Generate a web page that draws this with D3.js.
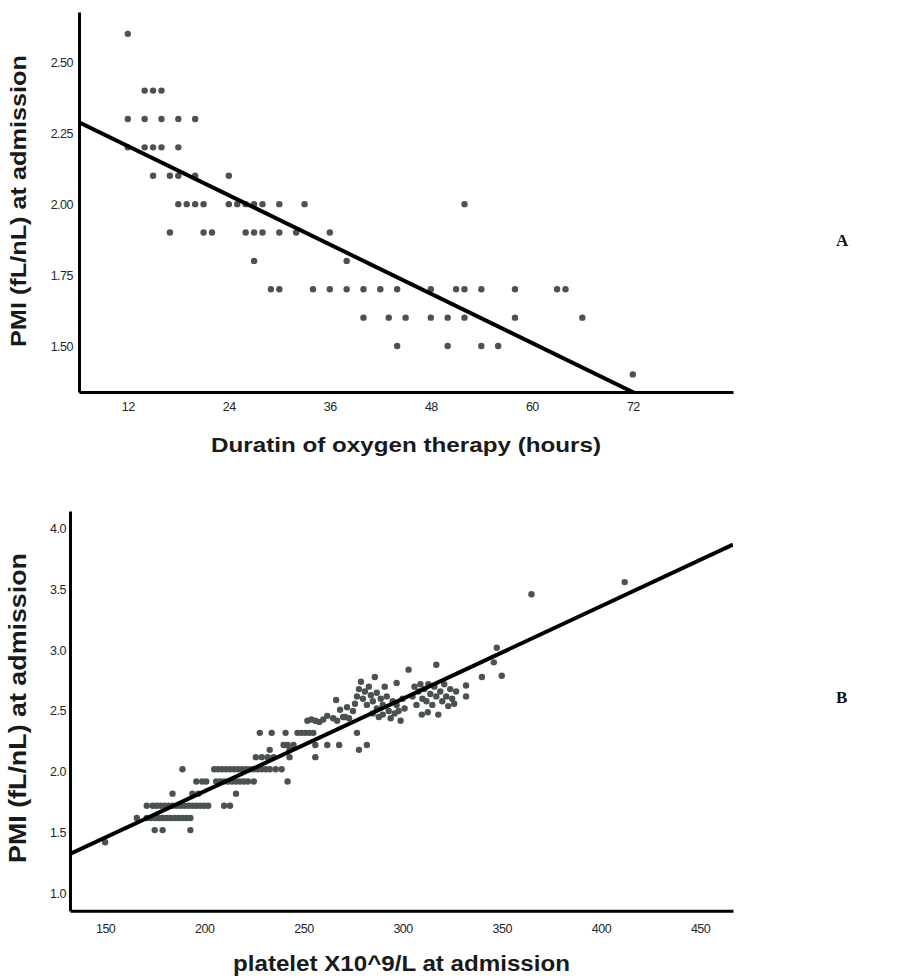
<!DOCTYPE html>
<html>
<head>
<meta charset="utf-8">
<script src="https://cdn.jsdelivr.net/npm/d3@7"></script>
<style>
  body { margin: 0; background: #fff; }
  .tick text { font-family: "Liberation Sans", Arial, sans-serif; font-size: 12.5px; fill: #262626; letter-spacing: -0.5px; }
  .axis-title { font-family: "Liberation Sans", Arial, sans-serif; font-weight: bold; fill: #1a1a1a; }
  .panel-label { font-family: "Liberation Serif", "DejaVu Serif", serif; font-weight: bold; font-size: 17px; fill: #111; }
</style>
</head>
<body>
<div id="chart"></div>
<script>
// ---- panel A: duration of oxygen therapy vs PMI ----
const hoursA = [
  12,
  14, 15, 16,
  12, 14, 16, 18, 20,
  12, 14, 15, 16, 18,
  15, 17, 18, 20, 24,
  18, 19, 20, 21, 24, 25, 26, 27, 28, 30, 33, 52,
  17, 21, 22, 26, 27, 28, 30, 32, 36,
  27, 38,
  29, 30, 34, 36, 38, 40, 42, 44, 48, 51, 52, 54, 58, 63, 64,
  40, 43, 45, 48, 50, 52, 58, 66,
  44, 50, 54, 56,
  72
];
const pmiA = [
  2.6,
  2.4, 2.4, 2.4,
  2.3, 2.3, 2.3, 2.3, 2.3,
  2.2, 2.2, 2.2, 2.2, 2.2,
  2.1, 2.1, 2.1, 2.1, 2.1,
  2.0, 2.0, 2.0, 2.0, 2.0, 2.0, 2.0, 2.0, 2.0, 2.0, 2.0, 2.0,
  1.9, 1.9, 1.9, 1.9, 1.9, 1.9, 1.9, 1.9, 1.9,
  1.8, 1.8,
  1.7, 1.7, 1.7, 1.7, 1.7, 1.7, 1.7, 1.7, 1.7, 1.7, 1.7, 1.7, 1.7, 1.7, 1.7,
  1.6, 1.6, 1.6, 1.6, 1.6, 1.6, 1.6, 1.6,
  1.5, 1.5, 1.5, 1.5,
  1.4
];
const ticksXA = [12, 24, 36, 48, 60, 72];
const ticksYA = [1.50, 1.75, 2.00, 2.25, 2.50];
const fitA = { intercept: 2.378, slope: -0.01445 };

// ---- panel B: platelet count vs PMI ----
const plateletB = [
  150,
  175, 179, 193,
  166, 171, 173, 175, 177, 179, 181, 183, 185, 187, 189, 191, 193,
  171, 174, 176, 178, 180, 182, 184, 186, 188, 190, 192, 194, 196, 198, 200, 202, 210, 213,
  184, 194, 197, 216,
  196, 199, 201, 206, 208, 210, 212, 214, 216, 218, 220, 222, 225, 242,
  189, 205, 207, 209, 211, 213, 215, 217, 219, 221, 223, 225, 227, 229, 231, 233, 236, 239,
  226, 229, 232, 235, 243, 256,
  233, 243, 278,
  240, 242, 245, 256, 262, 268, 282,
  228, 234, 241, 247, 249, 251, 253, 255, 277,
  252, 254, 256, 258, 260, 265, 267, 270, 271, 273,
  262, 268.5, 272, 266.5, 275, 276,
  277, 278, 279, 280, 281, 282, 283, 284, 285, 285, 286, 287, 287, 288, 289, 290, 290, 291, 292, 293,
  294, 295, 296, 297, 297, 298, 299, 300, 301, 303,
  305, 306, 307, 308, 309, 309.7, 310, 311, 312, 312.7, 313, 314, 315, 316, 317, 317, 318, 319, 320, 321,
  322, 323, 324, 325, 326, 327, 332, 332, 340, 346, 347.5, 350, 365, 412
];
const pmiB = [
  1.42,
  1.52, 1.52, 1.52,
  1.62, 1.62, 1.62, 1.62, 1.62, 1.62, 1.62, 1.62, 1.62, 1.62, 1.62, 1.62, 1.62,
  1.72, 1.72, 1.72, 1.72, 1.72, 1.72, 1.72, 1.72, 1.72, 1.72, 1.72, 1.72, 1.72, 1.72, 1.72, 1.72, 1.72, 1.72,
  1.82, 1.82, 1.82, 1.82,
  1.92, 1.92, 1.92, 1.92, 1.92, 1.92, 1.92, 1.92, 1.92, 1.92, 1.92, 1.92, 1.92, 1.92,
  2.02, 2.02, 2.02, 2.02, 2.02, 2.02, 2.02, 2.02, 2.02, 2.02, 2.02, 2.02, 2.02, 2.02, 2.02, 2.02, 2.02, 2.02,
  2.12, 2.12, 2.12, 2.12, 2.12, 2.12,
  2.18, 2.18, 2.18,
  2.22, 2.22, 2.22, 2.22, 2.22, 2.22, 2.22,
  2.32, 2.32, 2.32, 2.32, 2.32, 2.32, 2.32, 2.32, 2.32,
  2.42, 2.43, 2.42, 2.41, 2.43, 2.44, 2.42, 2.45, 2.45, 2.44,
  2.46, 2.51, 2.53, 2.59, 2.50, 2.56,
  2.62, 2.68, 2.74, 2.60, 2.66, 2.55, 2.70, 2.63, 2.58, 2.48, 2.78, 2.65, 2.52, 2.45, 2.60, 2.55, 2.47, 2.70, 2.62, 2.50,
  2.44, 2.58, 2.48, 2.73, 2.55, 2.50, 2.42, 2.60, 2.52, 2.84,
  2.62, 2.70, 2.55, 2.66, 2.72, 2.47, 2.60, 2.68, 2.58, 2.49, 2.72, 2.64, 2.55, 2.70, 2.88, 2.62, 2.47, 2.66, 2.58, 2.72,
  2.62, 2.54, 2.68, 2.60, 2.56, 2.66, 2.71, 2.62, 2.78, 2.90, 3.02, 2.79, 3.46, 3.56
];
const ticksXB = [150, 200, 250, 300, 350, 400, 450];
const ticksYB = [1.0, 1.5, 2.0, 2.5, 3.0, 3.5, 4.0];
const fitB = { intercept: 0.3155, slope: 0.007615 };

class ScatterPanel {
    constructor(_config, _xs, _ys) {
        this.config = _config;
        this.points = _xs.map((x, i) => ({ x: x, y: _ys[i] }));
        this.initVis();
    }

    initVis() {
        let vis = this;
        let c = vis.config;

        vis.x = d3.scaleLinear().domain(c.xDomain).range([c.left, c.right]);
        vis.y = d3.scaleLinear().domain(c.yDomain).range([c.bottom, c.top]);

        vis.g = svg.append('g');

        // clip so the fit line stops at the axes
        vis.g.append('clipPath').attr('id', c.id + '-clip')
            .append('rect')
            .attr('x', c.left).attr('y', c.top)
            .attr('width', c.right - c.left).attr('height', c.bottom - c.top);

        vis.updateVis();
    }

    updateVis() {
        let vis = this;
        let c = vis.config;

        vis.g.selectAll('.dot')
            .data(vis.points)
            .enter().append('circle')
            .attr('class', 'dot')
            .attr('cx', d => vis.x(d.x))
            .attr('cy', d => vis.y(d.y))
            .attr('r', 3.2)
            .attr('fill', '#4b5351');

        const xd = vis.x.domain();
        const line = d3.line().x(d => vis.x(d)).y(d => vis.y(c.fit.intercept + c.fit.slope * d));
        vis.g.append('path')
            .datum(xd)
            .attr('clip-path', 'url(#' + c.id + '-clip)')
            .attr('d', line)
            .attr('fill', 'none')
            .attr('stroke', '#000')
            .attr('stroke-width', 4);

        const xAxis = vis.g.append('g')
            .attr('transform', `translate(0,${c.bottom})`)
            .call(d3.axisBottom(vis.x).tickValues(c.xTicks).tickSize(0).tickSizeOuter(0).tickPadding(c.xPad).tickFormat(c.xFormat));
        const yAxis = vis.g.append('g')
            .attr('transform', `translate(${c.left},0)`)
            .call(d3.axisLeft(vis.y).tickValues(c.yTicks).tickSize(0).tickSizeOuter(0).tickPadding(c.yPad).tickFormat(c.yFormat));
        [xAxis, yAxis].forEach(a => a.select('.domain').attr('stroke', '#000').attr('stroke-width', 3));
        [xAxis, yAxis].forEach(a => a.attr('font-family', null).attr('font-size', null));

        vis.renderVis();
    }

    renderVis() {
        let vis = this;
        let c = vis.config;
        vis.g.append('text')
            .attr('class', 'axis-title')
            .attr('x', (c.left + c.right) / 2)
            .attr('y', c.xTitleY)
            .attr('text-anchor', 'middle')
            .attr('font-size', c.xTitleSize)
            .attr('textLength', c.xTitleLen)
            .attr('lengthAdjust', 'spacingAndGlyphs')
            .text(c.xTitle);
        vis.g.append('text')
            .attr('class', 'axis-title')
            .attr('transform', `translate(${c.yTitleX},${c.yTitleCenter}) rotate(-90)`)
            .attr('text-anchor', 'middle')
            .attr('font-size', c.yTitleSize)
            .attr('textLength', c.yTitleLen)
            .attr('lengthAdjust', 'spacingAndGlyphs')
            .text(c.yTitle);
        vis.g.append('text')
            .attr('class', 'panel-label')
            .attr('x', c.labelX).attr('y', c.labelY)
            .text(c.label);
    }
}

const svg = d3.select('#chart').append('svg')
    .attr('width', 906)
    .attr('height', 978);

new ScatterPanel({
    id: 'a', left: 79, right: 733, top: 12, bottom: 392,
    xDomain: [6.2, 83.9], yDomain: [1.338, 2.677],
    xTicks: ticksXA, yTicks: ticksYA,
    xFormat: d3.format('d'), yFormat: d3.format('.2f'),
    xPad: 10, yPad: 6, fit: fitA,
    xTitle: 'Duratin of oxygen therapy (hours)', xTitleY: 452, xTitleSize: 21, xTitleLen: 390,
    yTitle: 'PMI (fL/nL) at admission', yTitleX: 26, yTitleCenter: 201, yTitleSize: 22, yTitleLen: 292,
    label: 'A', labelX: 836, labelY: 246
}, hoursA, pmiA);

new ScatterPanel({
    id: 'b', left: 70, right: 733, top: 511, bottom: 910.7,
    xDomain: [132.3, 466.6], yDomain: [0.857, 4.145],
    xTicks: ticksXB, yTicks: ticksYB,
    xFormat: d3.format('d'), yFormat: d3.format('.1f'),
    xPad: 13, yPad: 4, fit: fitB,
    xTitle: 'platelet X10^9/L at admission', xTitleY: 971, xTitleSize: 22, xTitleLen: 337,
    yTitle: 'PMI (fL/nL) at admission', yTitleX: 26, yTitleCenter: 708, yTitleSize: 23, yTitleLen: 310,
    label: 'B', labelX: 836, labelY: 703
}, plateletB, pmiB);
</script>
</body>
</html>
